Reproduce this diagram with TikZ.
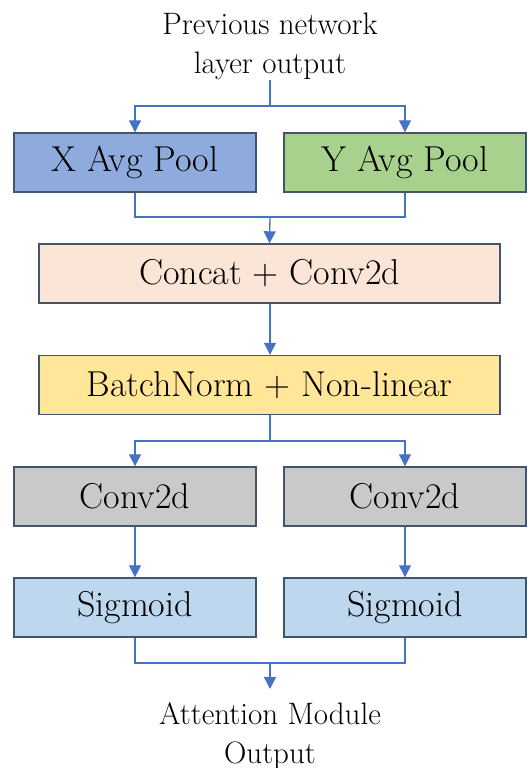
\documentclass[tikz,border=0pt]{standalone}
\usepackage{fontspec}
\usetikzlibrary{positioning,arrows.meta,calc}
\definecolor{xpoolc}{HTML}{8FAADC}
\definecolor{ypoolc}{HTML}{A9D18E}
\definecolor{concatc}{HTML}{FBE5D6}
\definecolor{normc}{HTML}{FFE699}
\definecolor{convc}{HTML}{C9C9C9}
\definecolor{sigc}{HTML}{BDD7EE}
\definecolor{edgec}{HTML}{44546A}
\definecolor{linkc}{HTML}{4472C4}

\begin{document}
\begin{tikzpicture}[
                    x=1pt, y=-1pt,
                    block/.style={rectangle, draw=edgec, line width=1.4pt, minimum height=59pt, inner sep=0pt, font=\fontsize{36}{40}\selectfont},
                    half/.style={block, minimum width=242pt},
                    full/.style={block, minimum width=461pt},
                    label/.style={align=center, inner sep=0pt, font=\fontsize{31}{39}\selectfont},
                    link/.style={draw=linkc, line width=1.3pt},
                    arrow/.style={link, -{Triangle[width=12pt,length=12pt]}}
                ]
                    \useasboundingbox (0,0) rectangle (527,768);

                    % Input and output text
                    \node[label, anchor=south] (prev) at (270,80) {Previous network\\layer output};
                    \node[label, anchor=north, inner ysep=13pt] (out) at (270,689) {Attention Module\\Output};

                    % Pooling
                    \node[half, fill=xpoolc] (xpool) at (135,162.5) {X Avg Pool};
                    \node[half, fill=ypoolc] (ypool) at (405,162.5) {Y Avg Pool};

                    % Shared layers
                    \node[full, fill=concatc] (concat) at (269.5,273.5) {Concat + Conv2d};
                    \node[full, fill=normc] (norm) at (269.5,385) {BatchNorm + Non-linear};

                    % Two branches
                    \node[half, fill=convc] (xconv) at (135,496.5) {Conv2d};
                    \node[half, fill=convc] (yconv) at (405,496.5) {Conv2d};
                    \node[half, fill=sigc] (xsig) at (135,607.5) {Sigmoid};
                    \node[half, fill=sigc] (ysig) at (405,607.5) {Sigmoid};

                    % Split and merge points
                    \coordinate (split1) at (270,106);
                    \coordinate (merge1) at (270,217);
                    \coordinate (split2) at (270,441);
                    \coordinate (merge2) at (270,663);

                    % Connectors
                    \draw[link] (prev.south) -- (split1);
                    \draw[arrow] (split1) -| (xpool.north);
                    \draw[arrow] (split1) -| (ypool.north);
                    \draw[link] (xpool.south) |- (merge1);
                    \draw[link] (ypool.south) |- (merge1);
                    \draw[arrow] (merge1) -- (concat.north);
                    \draw[arrow] (concat.south -| split2) -- (norm.north -| split2);
                    \draw[link] (norm.south -| split2) -- (split2);
                    \draw[arrow] (split2) -| (xconv.north);
                    \draw[arrow] (split2) -| (yconv.north);
                    \draw[arrow] (xconv) -- (xsig);
                    \draw[arrow] (yconv) -- (ysig);
                    \draw[link] (xsig.south) |- (merge2);
                    \draw[link] (ysig.south) |- (merge2);
                    \draw[arrow] (merge2) -- (out.north);
                \end{tikzpicture}
\end{document}
